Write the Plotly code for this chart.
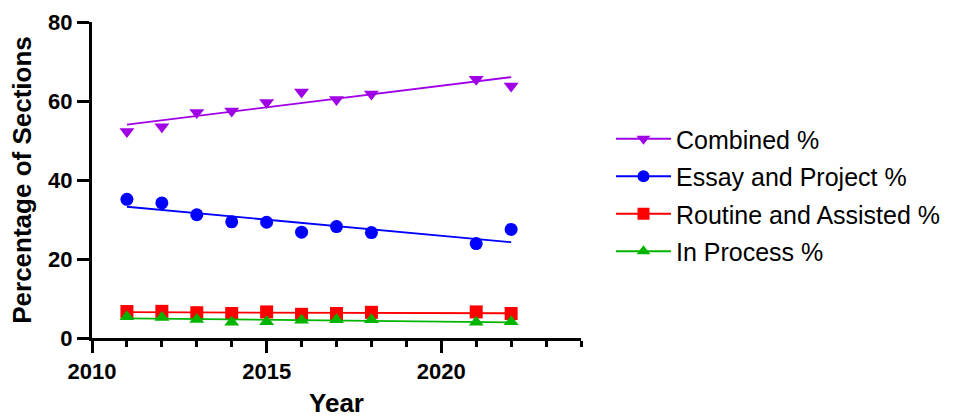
import numpy as np
import plotly.graph_objects as go

# Survey years
years = [2011, 2012, 2013, 2014, 2015, 2016, 2017, 2018, 2021, 2022]

# Share of sections per category (%)
combined = [52.3, 53.5, 57.1, 57.5, 59.6, 62.3, 60.4, 61.8, 65.5, 63.8]
essay_project = [35.1, 34.2, 31.2, 29.4, 29.3, 26.8, 28.2, 26.7, 23.9, 27.5]
routine_assisted = [6.7, 6.75, 6.4, 6.2, 6.6, 6.0, 6.2, 6.5, 6.6, 6.2]
in_process = [5.4, 5.2, 4.7, 4.0, 4.1, 4.5, 4.6, 4.6, 4.0, 4.1]

series_names = ["Combined %", "Essay and Project %", "Routine and Assisted %", "In Process %"]
series_values = [combined, essay_project, routine_assisted, in_process]
series_colors = ["#a000e6", "#0000ff", "#ff0000", "#00b400"]
series_symbols = ["triangle-down", "circle", "square", "triangle-up"]

FONT = "Arial, 'Liberation Sans', sans-serif"

fig = go.Figure()

x_arr = np.array(years, dtype=float)
for i, (name, vals, color, sym) in enumerate(zip(series_names, series_values, series_colors, series_symbols)):
    grp = f"g{i}"
    y_arr = np.array(vals, dtype=float)
    slope, intercept = np.polyfit(x_arr, y_arr, 1)
    x_fit = [min(years), max(years)]
    y_fit = [slope * xv + intercept for xv in x_fit]

    # linear trend
    fig.add_trace(go.Scatter(
        x=x_fit, y=y_fit, mode="lines",
        line=dict(color=color, width=1.8),
        legendgroup=grp, showlegend=False, hoverinfo="skip",
    ))
    # observed points
    fig.add_trace(go.Scatter(
        x=years, y=vals, mode="markers",
        marker=dict(symbol=sym, color=color, size=13, line=dict(width=0)),
        name=name, legendgroup=grp, showlegend=False,
    ))
    # legend entry (line + marker)
    fig.add_trace(go.Scatter(
        x=[None], y=[None], mode="lines+markers",
        line=dict(color=color, width=1.8),
        marker=dict(symbol=sym, color=color, size=12),
        name=name, legendgroup=grp, showlegend=True,
    ))

fig.update_layout(
    width=963, height=418,
    margin=dict(l=92, r=382, t=22, b=80, autoexpand=False),
    paper_bgcolor="white", plot_bgcolor="white",
    font=dict(family=FONT, color="black"),
    legend=dict(
        x=611 / 963, xref="container", xanchor="left",
        y=1 - 116 / 418, yref="container", yanchor="top",
        font=dict(size=25, family=FONT, color="black"),
        itemwidth=55, tracegroupgap=2,
        bgcolor="rgba(0,0,0,0)",
    ),
)

fig.update_xaxes(
    range=[2010, 2024], tickvals=[2010, 2015, 2020],
    showline=True, linecolor="black", linewidth=3,
    ticks="outside", ticklen=12, tickwidth=3, tickcolor="black",
    minor=dict(dtick=1, tick0=2010, ticks="outside", ticklen=6, tickwidth=3, tickcolor="black"),
    showgrid=False, zeroline=False, automargin=False,
    tickfont=dict(size=22, family=FONT, color="black", weight="bold"),
    title=dict(text="<b>Year</b>", font=dict(size=26, family=FONT, color="black"), standoff=20),
)
fig.update_yaxes(
    range=[0, 80], tickvals=[0, 20, 40, 60, 80],
    showline=True, linecolor="black", linewidth=3,
    ticks="outside", ticklen=12, tickwidth=3, tickcolor="black",
    showgrid=False, zeroline=False, automargin=False,
    tickfont=dict(size=22, family=FONT, color="black", weight="bold"),
    title=dict(text="<b>Percentage of Sections</b>", font=dict(size=26, family=FONT, color="black"), standoff=10),
)

fig.write_html("out.html")
